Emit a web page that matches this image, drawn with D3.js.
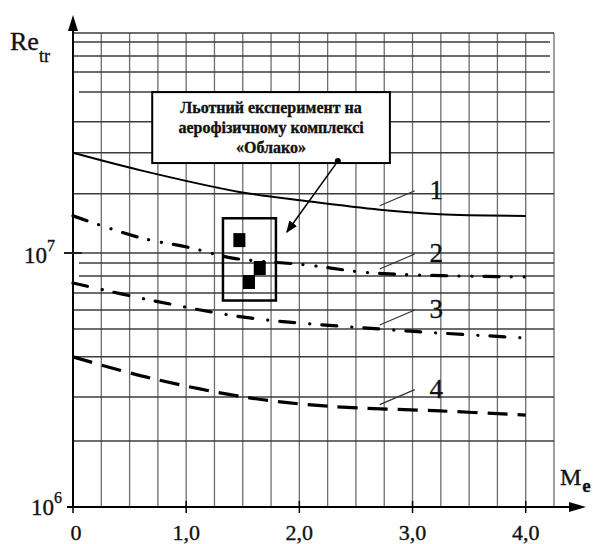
<!DOCTYPE html>
<html>
<head>
<meta charset="utf-8">
<script src="https://cdn.jsdelivr.net/npm/d3@7"></script>
<style>
  body { margin: 0; background: #fff; }
  svg { display: block; }
  text { font-family: "Liberation Serif", "Times New Roman", serif; fill: #111; stroke: #111; stroke-width: 0.35; }
</style>
</head>
<body>
<svg id="chart" width="598" height="544"></svg>
<script>
// x axis: Mach number, y axis: transition Reynolds number (log)
const machTicks = [0, 1, 2, 3, 4];
const machLabels = ["0", "1,0", "2,0", "3,0", "4,0"];
const gridMach = [0.25, 0.5, 0.75, 1, 1.25, 1.5, 1.75, 2, 2.25, 2.5, 2.75, 3, 3.25, 3.5, 3.75, 4, 4.25];
const gridRe = [1.82e6, 2.71e6, 3.9e6, 5.02e6, 5.97e6, 6.96e6, 8.12e6, 9.13e6, 1e7,
                1.71e7, 2.48e7, 3.29e7, 4.3e7, 5.16e7, 5.97e7, 6.77e7, 7.35e7];

// curves 1..4
const curveNames = ["1", "2", "3", "4"];
const mach1 = [0, 0.59, 1.47, 2.07, 2.71, 3.24, 4.0];
const re1 = [2.48e7, 2.12e7, 1.74e7, 1.60e7, 1.48e7, 1.42e7, 1.40e7];
const mach2 = [0, 0.59, 1.03, 1.41, 2.07, 2.65, 4.0];
const re2 = [1.40e7, 1.15e7, 1.05e7, 9.55e6, 8.97e6, 8.34e6, 8.05e6];
const mach3 = [0, 0.68, 1.56, 2.71, 3.24, 4.0];
const re3 = [7.62e6, 6.53e6, 5.55e6, 5.02e6, 4.84e6, 4.63e6];
const mach4 = [0, 0.68, 1.56, 2.27, 3.24, 4.0];
const re4 = [3.9e6, 3.22e6, 2.69e6, 2.49e6, 2.39e6, 2.30e6];
const leaderMach = 2.71;
const leaderRe = [1.48e7, 8.34e6, 5.02e6, 2.44e6];

// flight experiment points
const expMach = [1.47, 1.65, 1.555];
const expRe = [1.124e7, 8.73e6, 7.69e6];
const expBoxMach = [1.325, 1.793];
const expBoxRe = [6.5e6, 1.37e7];

const noteLines = ["Льотний експеримент на", "аерофізичному комплексі", "«Облако»"];

const svg = d3.select("#chart");
const x = d3.scaleLinear().domain([0, 4.25]).range([73, 554]);
const y = d3.scaleLog().domain([1e6, 1e8]).range([507, -1]);
const yTop = y(7.35e7);

// grid
const grid = svg.append("g");
grid.selectAll(".vg").data(gridMach).enter().append("line")
  .attr("x1", d => x(d)).attr("x2", d => x(d))
  .attr("y1", yTop).attr("y2", y(1e6))
  .attr("stroke", "#6e6e6e").attr("stroke-width", 1.3);
const shortLeft = [4.3e7, 9.13e6, 8.12e6];
const shortRight = [6.77e7, 5.97e7, 5.16e7, 3.29e7];
grid.selectAll(".hg").data(gridRe).enter().append("line")
  .attr("x1", d => shortLeft.includes(d) ? 79 : x(0))
  .attr("x2", d => shortRight.includes(d) ? 550 : x(4.25))
  .attr("y1", d => y(d)).attr("y2", d => y(d))
  .attr("stroke", "#3c3c3c").attr("stroke-width", 1.5);

// axes
svg.append("line").attr("x1", x(0)).attr("x2", x(0)).attr("y1", y(1e6)).attr("y2", 26)
  .attr("stroke", "#000").attr("stroke-width", 2);
svg.append("path").attr("d", `M${x(0)},15 L${x(0) - 5},31 L${x(0) + 5},31 Z`).attr("fill", "#000");
svg.append("line").attr("x1", x(0)).attr("x2", 575).attr("y1", y(1e6)).attr("y2", y(1e6))
  .attr("stroke", "#000").attr("stroke-width", 2);
svg.append("path").attr("d", `M586,${y(1e6)} L569,${y(1e6) - 5} L569,${y(1e6) + 5} Z`).attr("fill", "#000");

svg.selectAll(".xt").data(machTicks).enter().append("line")
  .attr("x1", d => x(d)).attr("x2", d => x(d))
  .attr("y1", y(1e6) - 6).attr("y2", y(1e6) + 6)
  .attr("stroke", "#000").attr("stroke-width", 1.5);
svg.selectAll(".xl").data(machTicks).enter().append("text")
  .attr("x", d => x(d) + (d === 0 ? 3 : 0)).attr("y", 540)
  .attr("text-anchor", "middle").attr("font-size", 22)
  .text((d, i) => machLabels[i]);

svg.append("line").attr("x1", 64).attr("x2", 82).attr("y1", y(1e7)).attr("y2", y(1e7))
  .attr("stroke", "#222").attr("stroke-width", 2);
svg.append("line").attr("x1", 67).attr("x2", x(0)).attr("y1", y(1e6)).attr("y2", y(1e6))
  .attr("stroke", "#000").attr("stroke-width", 2);

const pow = [[1e7, "7", 24, 263], [1e6, "6", 31, 515]];
pow.forEach(p => {
  const t = svg.append("text").attr("x", p[2]).attr("y", p[3]).attr("font-size", 23);
  t.append("tspan").text("10");
  t.append("tspan").attr("font-size", 16).attr("dy", -12).text(p[1]);
});

const reLab = svg.append("text").attr("x", 10).attr("y", 50).attr("font-size", 26);
reLab.append("tspan").text("Re");
reLab.append("tspan").attr("font-size", 18).attr("dy", 12).text("tr");
const mLab = svg.append("text").attr("x", 560).attr("y", 485).attr("font-size", 24);
mLab.append("tspan").text("M");
mLab.append("tspan").attr("font-size", 19).attr("font-weight", "bold").attr("dy", 7).attr("dx", 1).text("e");

// curves
const series = [
  { m: mach1, r: re1, w: 2, dash: null, cap: "butt" },
  { m: mach2, r: re2, w: 3.2, dash: "15,12,0.1,13,0.1,12", cap: "round" },
  { m: mach3, r: re3, w: 3.2, dash: "15,15,0.1,12", cap: "round" },
  { m: mach4, r: re4, w: 3.2, dash: "20,10", cap: "butt" }
];
const line = d3.line().x(d => x(d[0])).y(d => y(d[1])).curve(d3.curveCatmullRom.alpha(0.5));
series.forEach(s => {
  svg.append("path").datum(s.m.map((v, i) => [v, s.r[i]]))
    .attr("d", line).attr("fill", "none").attr("stroke", "#000")
    .attr("stroke-width", s.w).attr("stroke-linecap", s.cap)
    .attr("stroke-dasharray", s.dash);
});

// leaders + numbers
leaderRe.forEach((r, i) => {
  const yc = y(r);
  svg.append("line").attr("x1", x(leaderMach)).attr("y1", yc - 4)
    .attr("x2", x(3.02)).attr("y2", yc - 19)
    .attr("stroke", "#333").attr("stroke-width", 1.2);
  svg.append("text").attr("x", x(3.15)).attr("y", yc - 11)
    .attr("font-size", 27).text(curveNames[i]);
});

// experiment box and points
svg.append("rect")
  .attr("x", x(expBoxMach[0])).attr("y", y(expBoxRe[1]))
  .attr("width", x(expBoxMach[1]) - x(expBoxMach[0]))
  .attr("height", y(expBoxRe[0]) - y(expBoxRe[1]))
  .attr("fill", "none").attr("stroke", "#000").attr("stroke-width", 2.5);
svg.selectAll(".pt").data(expMach).enter().append("rect")
  .attr("x", d => x(d) - 6).attr("y", (d, i) => y(expRe[i]) - 7)
  .attr("width", 12).attr("height", 14).attr("fill", "#000");

// note box
const noteMach = [0.70, 2.80], noteRe = [2.26e7, 4.3e7];
svg.append("rect")
  .attr("x", x(noteMach[0])).attr("y", y(noteRe[1]))
  .attr("width", x(noteMach[1]) - x(noteMach[0]))
  .attr("height", y(noteRe[0]) - y(noteRe[1]))
  .attr("fill", "#fff").attr("stroke", "#000").attr("stroke-width", 2);
svg.selectAll(".nt").data(noteLines).enter().append("text")
  .attr("x", (x(noteMach[0]) + x(noteMach[1])) / 2)
  .attr("y", (d, i) => 113 + i * 20)
  .attr("text-anchor", "middle").attr("font-size", 16).attr("font-weight", "bold")
  .text(d => d);

// pointer arrow
svg.append("defs").append("marker").attr("id", "ah")
  .attr("viewBox", "0 0 10 10").attr("refX", 9).attr("refY", 5)
  .attr("markerWidth", 8).attr("markerHeight", 8).attr("orient", "auto")
  .append("path").attr("d", "M0,1 L10,5 L0,9 Z").attr("fill", "#000");
const arrowFrom = [2.34, 2.30e7], arrowTo = [1.89, 1.21e7];
svg.append("line")
  .attr("x1", x(arrowFrom[0])).attr("y1", y(arrowFrom[1]))
  .attr("x2", x(arrowTo[0])).attr("y2", y(arrowTo[1]))
  .attr("stroke", "#000").attr("stroke-width", 1.5).attr("marker-end", "url(#ah)");
svg.append("circle").attr("cx", x(arrowFrom[0])).attr("cy", y(arrowFrom[1]))
  .attr("r", 3).attr("fill", "#000");
</script>
</body>
</html>
